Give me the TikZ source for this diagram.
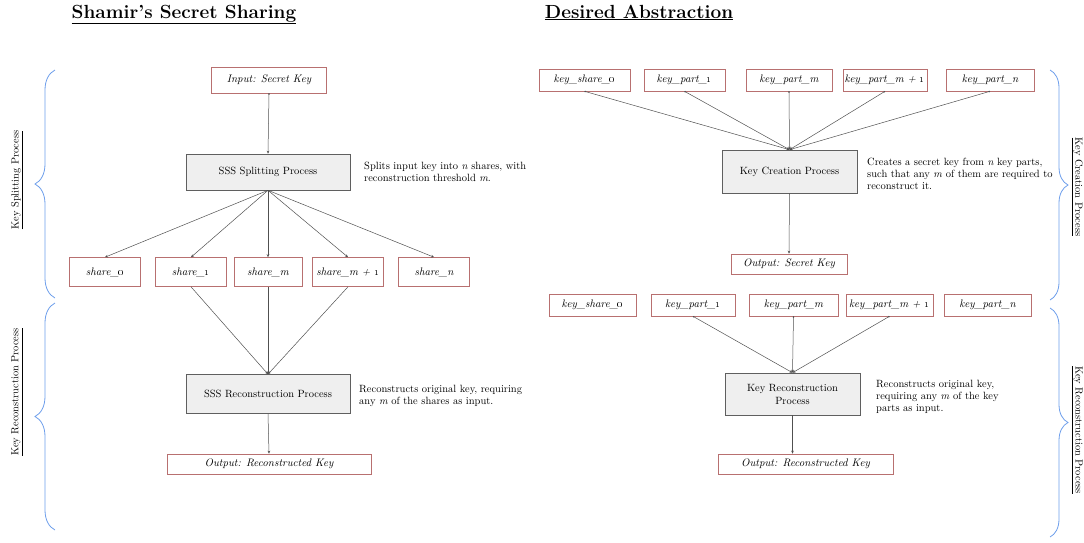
\documentclass[tikz,border=0pt]{standalone}
\usetikzlibrary{arrows.meta,decorations.pathreplacing}

\definecolor{boxred}{RGB}{184,112,112}
\definecolor{procgray}{RGB}{239,239,239}
\definecolor{procedge}{RGB}{95,95,95}
\definecolor{linegray}{RGB}{80,80,80}
\definecolor{braceblue}{RGB}{109,158,235}

\tikzset{
  keybox/.style={draw=boxred, line width=0.6pt, font=\fontsize{10.9}{13}\selectfont\itshape, inner sep=0pt},
  procbox/.style={draw=procedge, fill=procgray, line width=0.6pt, inner sep=0pt, align=center, font=\fontsize{10.5}{13}\selectfont},
  desc/.style={anchor=west, align=left, inner sep=0pt, font=\fontsize{10.5}{12.3}\selectfont},
  conn/.style={draw=linegray, line width=0.5pt, -{Stealth[length=3pt,width=2.6pt]}},
  dotconn/.style={conn, {Circle[length=1.5pt]}-{Stealth[length=3pt,width=2.6pt]}},
  sidebrace/.style={draw=braceblue, line width=0.8pt, decorate},
  sidelabel/.style={inner sep=0pt, font=\fontsize{10.4}{12}\selectfont},
  heading/.style={anchor=base, inner sep=0pt, font=\fontsize{19}{21}\selectfont\bfseries},
}

\begin{document}
\begin{tikzpicture}[x=1pt, y=-1pt]
    \useasboundingbox (0,0) rectangle (1084,542);

    % --- TYTULY ---
    \node[heading] (t1) at (184,18) {\underline{Shamir’s Secret Sharing}};
    \node[heading] (t2) at (639,18) {\underline{Desired Abstraction}};

    % --- LEWA STRONA: SSS ---
    % Wejscie i podzial
    \node[keybox, minimum width=115pt, minimum height=26pt] (in) at (269,80) {Input: Secret Key};
    \node[procbox, minimum width=164pt, minimum height=36pt] (split) at (268,172) {SSS Splitting Process};
    \node[desc] (splitd) at (364,172) {Splits input key into \textit{n} shares, with\\reconstruction threshold \textit{m}.};

    % Udzialy
    \node[keybox, minimum width=71pt, minimum height=29pt] (s0) at (105,272) {share\_\oldstylenums{0}};
    \node[keybox, minimum width=71pt, minimum height=29pt] (s1) at (191,272) {share\_\oldstylenums{1}};
    \node[keybox, minimum width=68pt, minimum height=29pt] (sm) at (268,272) {share\_m};
    \node[keybox, minimum width=71pt, minimum height=29pt] (sm1) at (348,272) {share\_m + \oldstylenums{1}};
    \node[keybox, minimum width=71pt, minimum height=29pt] (sn) at (434,272) {share\_n};

    % Odtwarzanie
    \node[procbox, minimum width=164pt, minimum height=39pt] (rec) at (268,394) {SSS Reconstruction Process};
    \node[desc] (recd) at (359,396) {Reconstructs original key, requiring\\any \textit{m} of the shares as input.};
    \node[keybox, minimum width=204pt, minimum height=20pt] (out) at (269,464) {Output: Reconstructed Key};

    \draw[dotconn] (in.south) -- (split.north);
    \draw[conn] (split.south) -- (s0.north);
    \draw[conn] (split.south) -- (s1.north);
    \draw[conn] (split.south) -- (sm.north);
    \draw[conn] (split.south) -- (sm1.north);
    \draw[conn] (split.south) -- (sn.north);
    \draw[conn] (s1.south) -- (rec.north);
    \draw[conn] (sm.south) -- (rec.north);
    \draw[conn] (sm1.south) -- (rec.north);
    \draw[conn] (rec.south) -- (out.north);

    % Klamry i opisy
    \draw[sidebrace, decoration={brace, amplitude=20pt}] (55,298) -- (55,70);
    \draw[sidebrace, decoration={brace, amplitude=20pt}] (55,530) -- (55,303);
    \node[sidelabel, rotate=90] (lab1) at (17,180) {\underline{Key Splitting Process}};
    \node[sidelabel, rotate=90] (lab2) at (17,392) {\underline{Key Reconstruction Process}};

    % --- PRAWA STRONA: ABSTRAKCJA ---
    % Tworzenie klucza
    \node[keybox, minimum width=91pt, minimum height=22pt] (k0) at (584.5,80) {key\_share\_\oldstylenums{0}};
    \node[keybox, minimum width=81pt, minimum height=22pt] (k1) at (684.5,80) {key\_part\_\oldstylenums{1}};
    \node[keybox, minimum width=86pt, minimum height=22pt] (km) at (789,80) {key\_part\_m};
    \node[keybox, minimum width=84pt, minimum height=22pt] (km1) at (885,80) {key\_part\_m + \oldstylenums{1}};
    \node[keybox, minimum width=88pt, minimum height=22pt] (kn) at (990,80) {key\_part\_n};

    \node[procbox, minimum width=135pt, minimum height=43pt] (create) at (789.5,171.5) {Key Creation Process};
    \node[desc] (created) at (867,174) {Creates a secret key from \textit{n} key parts,\\such that any \textit{m} of them are required to\\reconstruct it.};
    \node[keybox, minimum width=116pt, minimum height=20pt] (outsec) at (789,264) {Output: Secret Key};

    \draw[dotconn] (k0.south) -- (create.north);
    \draw[dotconn] (k1.south) -- (create.north);
    \draw[dotconn] (km.south) -- (create.north);
    \draw[dotconn] (km1.south) -- (create.north);
    \draw[dotconn] (kn.south) -- (create.north);
    \draw[conn] (create.south) -- (outsec.north);

    % Odtwarzanie klucza
    \node[keybox, minimum width=87pt, minimum height=22pt] (r0) at (592.5,305) {key\_share\_\oldstylenums{0}};
    \node[keybox, minimum width=84pt, minimum height=22pt] (r1) at (693,305) {key\_part\_\oldstylenums{1}};
    \node[keybox, minimum width=89pt, minimum height=22pt] (rm) at (793.5,305) {key\_part\_m};
    \node[keybox, minimum width=87pt, minimum height=22pt] (rm1) at (889.5,305) {key\_part\_m + \oldstylenums{1}};
    \node[keybox, minimum width=87pt, minimum height=22pt] (rn) at (987.5,305) {key\_part\_n};

    \node[procbox, minimum width=135pt, minimum height=42pt] (rec2) at (792.5,394) {Key Reconstruction\\Process};
    \node[desc] (rec2d) at (876,397) {Reconstructs original key,\\requiring any \textit{m} of the key\\parts as input.};
    \node[keybox, minimum width=175pt, minimum height=20pt] (out2) at (805.5,464) {Output: Reconstructed Key};

    \draw[dotconn] (r1.south) -- (rec2.north);
    \draw[dotconn] (rm.south) -- (rec2.north);
    \draw[dotconn] (rm1.south) -- (rec2.north);
    \draw[conn] (rec2.south) -- (rec2.south |- out2.north);

    % Klamry i opisy
    \draw[sidebrace, decoration={brace, amplitude=18pt}] (1050,70) -- (1050,300);
    \draw[sidebrace, decoration={brace, amplitude=18pt}] (1050,308) -- (1050,537);
    \node[sidelabel, rotate=-90] (lab3) at (1077,187) {\underline{Key Creation Process}};
    \node[sidelabel, rotate=-90] (lab4) at (1077,430) {\underline{Key Reconstruction Process}};
\end{tikzpicture}
\end{document}
